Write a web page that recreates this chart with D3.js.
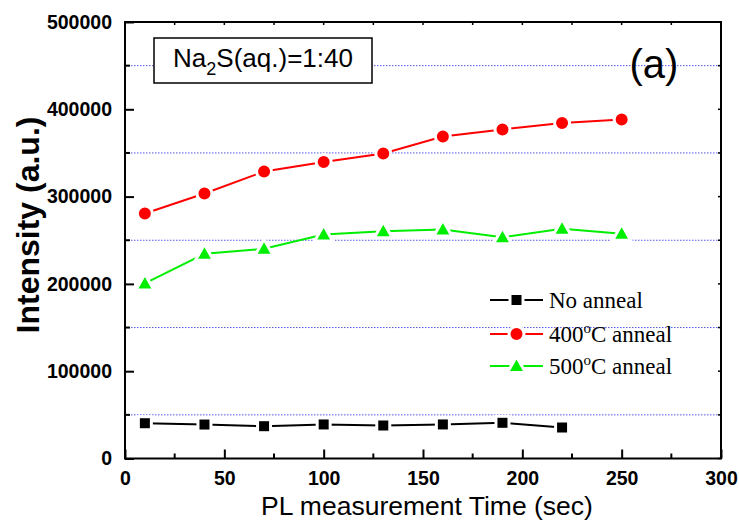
<!DOCTYPE html>
<html><head><meta charset="utf-8">
<script src="https://cdn.jsdelivr.net/npm/d3@7"></script>
<style>body{margin:0;background:#fff}</style>
</head><body>
<svg id="c" width="739" height="524"></svg>
<script>
const times = [10, 40, 70, 100, 130, 160, 190, 220, 250];
const noAnneal = [40400, 38900, 37000, 39000, 37800, 39000, 40900, 35500];
const anneal400 = [280600, 303500, 328700, 339600, 349400, 368800, 376900, 384300, 388300];
const anneal500 = [200500, 234500, 240200, 256600, 260400, 262300, 253500, 263100, 257400];
const xTicks = [0, 50, 100, 150, 200, 250, 300];
const yTicks = [0, 100000, 200000, 300000, 400000, 500000];
const gridVals = [50000, 150000, 250000, 350000, 450000];
const seriesNames = ["No anneal", "400", "500"];

const svg = d3.select("#c");
const L = 125, R = 721, T = 22, B = 458.5;
const x = d3.scaleLinear().domain([0, 300]).range([L, R]);
const y = d3.scaleLinear().domain([0, 500000]).range([B, T]);
const sans = "'Liberation Sans', Arial, sans-serif";
const serif = "'Liberation Serif', 'Times New Roman', serif";

// grid
svg.append("g").selectAll("line").data(gridVals).join("line")
  .attr("x1", L).attr("x2", R).attr("y1", d => y(d)).attr("y2", d => y(d))
  .attr("stroke", "#5555ee").attr("stroke-width", 1).attr("stroke-dasharray", "1.5,1.5");

// axes
const minorX = d3.range(0, 301, 25), minorY = d3.range(0, 500001, 50000);
const gB = svg.append("g").attr("transform", `translate(0,${B})`)
  .call(d3.axisBottom(x).tickValues(xTicks).tickSizeInner(-9).tickSizeOuter(0).tickPadding(13).tickFormat(d3.format("d")));
const gL = svg.append("g").attr("transform", `translate(${L},0)`)
  .call(d3.axisLeft(y).tickValues(yTicks).tickSizeInner(-9).tickSizeOuter(0).tickPadding(13).tickFormat(d3.format("d")));
[gB, gL].forEach(g => {
  g.select(".domain").remove();
  g.selectAll(".tick line").attr("stroke", "#000").attr("stroke-width", 2);
  g.selectAll(".tick text").attr("font-family", sans).attr("font-weight", "bold").attr("font-size", 19.5).attr("fill", "#000");
});
// minor ticks
svg.append("g").selectAll("line").data(minorX.filter(d => d % 50)).join("line")
  .attr("x1", d => x(d)).attr("x2", d => x(d)).attr("y1", B).attr("y2", B - 5).attr("stroke", "#000").attr("stroke-width", 2);
svg.append("g").selectAll("line").data(minorY.filter(d => d % 100000)).join("line")
  .attr("y1", d => y(d)).attr("y2", d => y(d)).attr("x1", L).attr("x2", L + 5).attr("stroke", "#000").attr("stroke-width", 2);
// top/right small ticks
svg.append("g").selectAll("line").data(minorX).join("line")
  .attr("x1", d => x(d)).attr("x2", d => x(d)).attr("y1", T).attr("y2", T + 3).attr("stroke", "#000").attr("stroke-width", 1.5);
svg.append("g").selectAll("line").data(minorY).join("line")
  .attr("y1", d => y(d)).attr("y2", d => y(d)).attr("x1", R).attr("x2", R - 3).attr("stroke", "#000").attr("stroke-width", 1.5);
// frame
svg.append("rect").attr("x", L).attr("y", T).attr("width", R - L).attr("height", B - T)
  .attr("fill", "none").attr("stroke", "#000").attr("stroke-width", 2);

// axis titles
svg.append("text").attr("x", 427).attr("y", 515).attr("text-anchor", "middle")
  .attr("font-family", sans).attr("font-size", 26.5).text("PL measurement Time (sec)");
svg.append("text").attr("transform", `translate(39,225) rotate(-90)`).attr("text-anchor", "middle")
  .attr("font-family", sans).attr("font-weight", "bold").attr("font-size", 32).text("Intensity (a.u.)");

// series
const line = d3.line().x(d => x(d[0])).y(d => y(d[1]));
const series = [
  {vals: noAnneal, color: "#000", shape: "square"},
  {vals: anneal400, color: "#ff0000", shape: "circle"},
  {vals: anneal500, color: "#00ee00", shape: "triangle"}
];
function marker(g, shape, color) {
  if (shape === "square") g.append("rect").attr("x", -6.5).attr("y", -6.5).attr("width", 13).attr("height", 13);
  else if (shape === "circle") g.append("circle").attr("r", 7.5);
  else g.append("path").attr("d", "M0,-9.5L9,6.5L-9,6.5Z");
  g.selectAll("*").attr("fill", color).attr("stroke", "#fff").attr("stroke-width", 3);
}
series.forEach(s => {
  const pts = s.vals.map((v, i) => [times[i], v]);
  svg.append("path").attr("d", line(pts)).attr("fill", "none").attr("stroke", s.color).attr("stroke-width", 2);
  pts.forEach(p => {
    const g = svg.append("g").attr("transform", `translate(${x(p[0])},${y(p[1])})`);
    marker(g, s.shape, s.color);
  });
});

// legend
const rows = [300, 334, 366];
series.forEach((s, i) => {
  svg.append("line").attr("x1", 490).attr("x2", 543).attr("y1", rows[i]).attr("y2", rows[i]).attr("stroke", s.color).attr("stroke-width", 2);
  const g = svg.append("g").attr("transform", `translate(516.5,${rows[i]})`);
  marker(g, s.shape, s.color);
  const t = svg.append("text").attr("x", 549).attr("y", rows[i] + 8).attr("font-family", serif).attr("font-size", 23);
  if (i === 0) t.text(seriesNames[0]);
  else {
    t.append("tspan").text(seriesNames[i]);
    t.append("tspan").attr("dy", -9).attr("font-size", 15).text("o");
    t.append("tspan").attr("dy", 9).text("C anneal");
  }
});

// label box
svg.append("rect").attr("x", 154).attr("y", 38).attr("width", 218).attr("height", 45)
  .attr("fill", "#fff").attr("stroke", "#000").attr("stroke-width", 1.5);
const bt = svg.append("text").attr("x", 263).attr("y", 67).attr("text-anchor", "middle").attr("font-family", sans).attr("font-size", 26);
bt.append("tspan").text("Na");
bt.append("tspan").attr("dy", 8).attr("font-size", 18).text("2");
bt.append("tspan").attr("dy", -8).text("S(aq.)=1:40");

svg.append("text").attr("x", 654).attr("y", 78).attr("text-anchor", "middle").attr("font-family", sans).attr("font-size", 40).text("(a)");
</script>
</body></html>
